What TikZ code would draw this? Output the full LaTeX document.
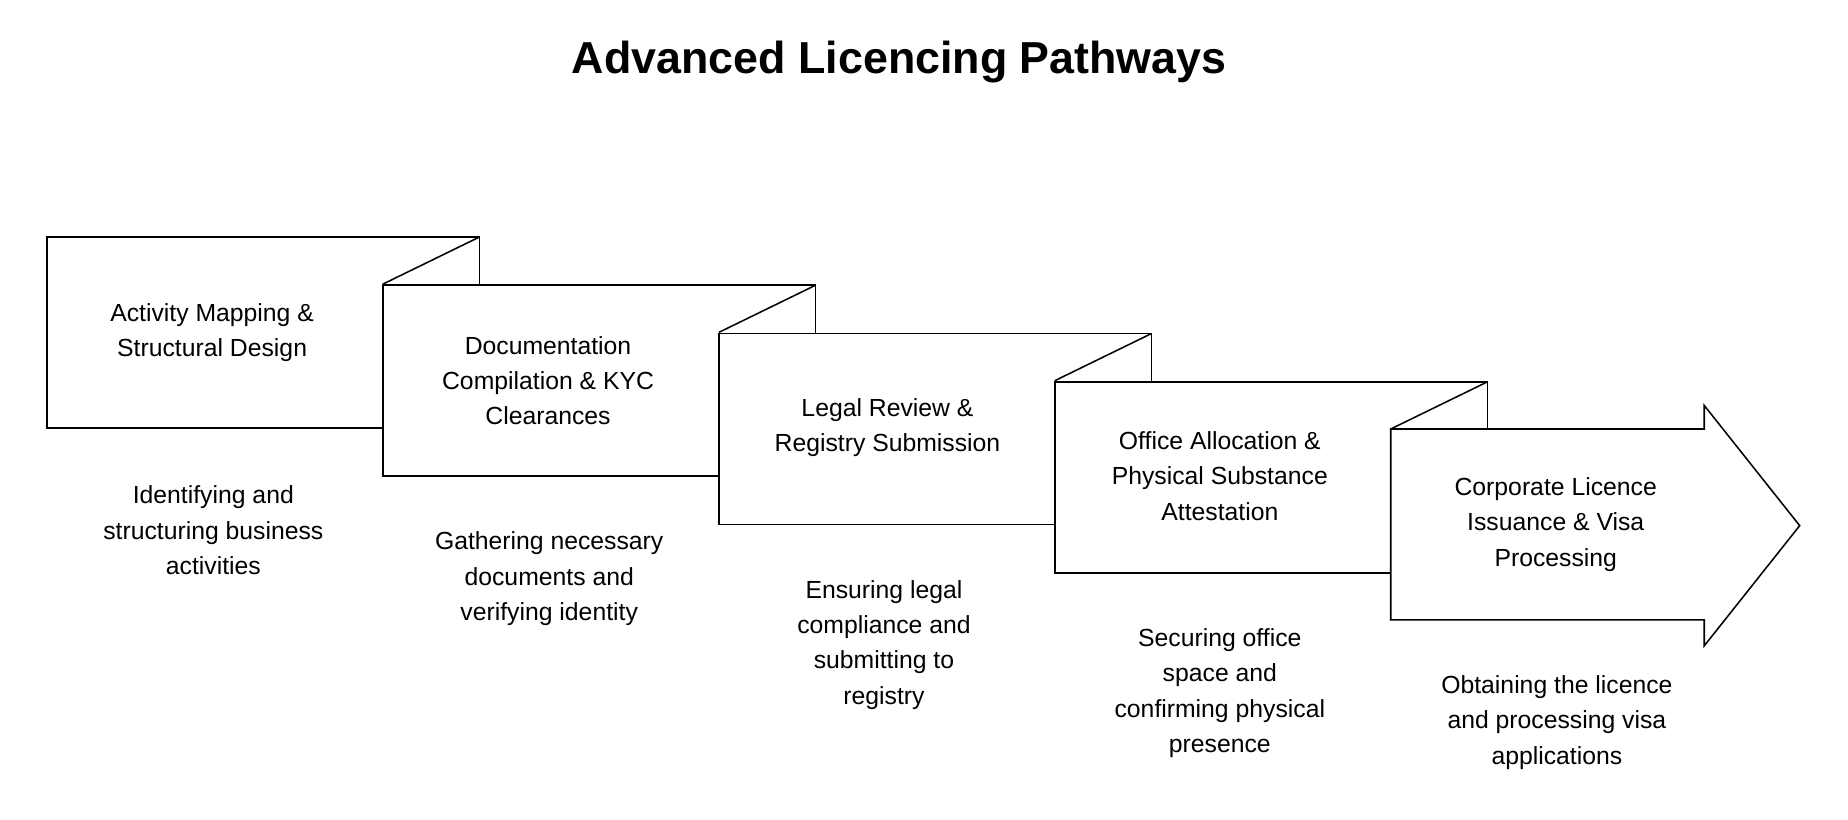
\documentclass[tikz,border=0pt]{standalone}
\usepackage{fontspec}
\setmainfont{Liberation Sans}
\begin{document}
\begin{tikzpicture}[x=1pt,y=-1pt,
  box/.style={draw=black,line width=1.3pt,fill=white,line join=miter},
  lbl/.style={align=center,font=\fontsize{21}{30}\selectfont},
  ttl/.style={font=\fontsize{38}{44}\selectfont\bfseries}]
\useasboundingbox (0,0) rectangle (1568,695);
\node[ttl] (title) at (763,53) {Advanced Licencing Pathways};
\foreach \i in {0,1,2,3}{
  \pgfmathsetmacro\L{40+285*\i}
  \pgfmathsetmacro\T{201+41*\i}
  \draw[box] (\L,\T) -- (\L+367,\T) -- (\L+367,\T+162) -- (\L,\T+162) -- cycle;
  \draw[line width=1.3pt] (\L+367,\T) -- (\L+285,\T+40);
}
\draw[box] (1180,364) -- (1446,364) -- (1446,344) -- (1527,446) -- (1446,548) -- (1446,526) -- (1180,526) -- cycle;
\node[lbl] (b1) at (180,282) {Activity Mapping \&\\Structural Design};
\node[lbl] (b2) at (465,323) {Documentation\\Compilation \& KYC\\Clearances};
\node[lbl] (b3) at (753,363) {Legal Review \&\\Registry Submission};
\node[lbl] (b4) at (1035,404) {Office Allocation \&\\Physical Substance\\Attestation};
\node[lbl] (b5) at (1320,445) {Corporate Licence\\Issuance \& Visa\\Processing};
\node[lbl] (d1) at (181,450) {Identifying and\\structuring business\\activities};
\node[lbl] (d2) at (466,491) {Gathering necessary\\documents and\\verifying identity};
\node[lbl] (d3) at (750,547) {Ensuring legal\\compliance and\\submitting to\\registry};
\node[lbl] (d4) at (1035,588) {Securing office\\space and\\confirming physical\\presence};
\node[lbl] (d5) at (1321,613) {Obtaining the licence\\and processing visa\\applications};
\end{tikzpicture}
\end{document}
